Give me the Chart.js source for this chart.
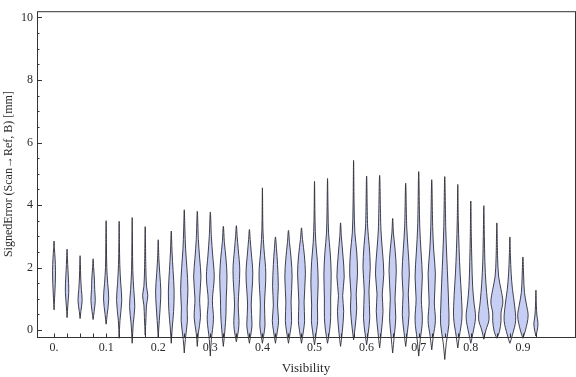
<!DOCTYPE html>
<html>
<head>
<meta charset="utf-8">
<script src="https://cdn.jsdelivr.net/npm/chart.js@4.4.1/dist/chart.umd.min.js"></script>
<style>
  html, body { margin: 0; padding: 0; background: #fff; }
  #wrap { width: 576px; height: 377px; }
</style>
</head>
<body>
<div id="wrap"><canvas id="violins" width="576" height="377"></canvas></div>
<script>
// Visibility bins (one violin each)
const positions = [0, 0.025, 0.05, 0.075, 0.1, 0.125, 0.15, 0.175, 0.2, 0.225,
  0.25, 0.275, 0.3, 0.325, 0.35, 0.375, 0.4, 0.425, 0.45, 0.475,
  0.5, 0.525, 0.55, 0.575, 0.6, 0.625, 0.65, 0.675, 0.7, 0.725,
  0.75, 0.775, 0.8, 0.825, 0.85, 0.875, 0.9, 0.925];

// Smallest / largest signed error in each bin [mm]
const lows = [0.65, 0.40, 0.37, 0.34, 0.19, -0.26, -0.42, -0.16, -0.23, -0.42,
  -0.73, -0.52, -0.83, -0.52, -0.37, -0.42, -0.42, -0.42, -0.42, -0.42,
  -0.47, -0.42, -0.52, -0.31, -0.47, -0.57, -0.73, -0.52, -0.83, -0.63,
  -0.94, -0.57, -0.42, -0.29, -0.26, -0.42, -0.26, -0.19];
const highs = [2.85, 2.59, 2.38, 2.28, 3.50, 3.48, 3.60, 3.31, 2.89, 3.17,
  3.85, 3.80, 3.78, 3.32, 3.34, 3.22, 4.55, 2.98, 3.19, 3.27,
  4.76, 4.85, 3.43, 5.43, 4.93, 4.95, 3.57, 4.70, 5.07, 4.81,
  4.91, 4.66, 4.13, 3.98, 3.43, 2.98, 2.34, 1.28];

// Density profile of each bin: [error, relative density]
const profiles = [
  [[1.0, 1.0], [1.5, 2.4], [1.9, 2.8], [2.3, 2.0], [2.6, 0.8]],
  [[0.8, 1.5], [1.2, 3.2], [1.5, 3.0], [1.9, 1.8], [2.3, 0.8]],
  [[0.6, 1.5], [0.95, 4.0], [1.3, 2.5], [1.7, 1.2], [2.1, 0.6]],
  [[0.6, 2], [0.95, 4.2], [1.3, 3], [1.6, 2.6], [2.0, 1]],
  [[0.5, 2], [1.0, 5.0], [1.5, 3], [2.0, 1.2], [2.8, 0.6]],
  [[0.3, 1.5], [0.95, 5.0], [1.5, 3], [2.1, 1.2], [2.8, 0.5]],
  [[0.2, 2], [0.75, 5.0], [1.3, 3], [1.9, 1.2], [2.8, 0.5]],
  [[0.4, 1.5], [0.8, 2.5], [1.1, 5.0], [1.4, 2.5], [2.0, 1.2]],
  [[0.3, 2], [0.8, 4], [1.25, 5], [1.8, 3], [2.3, 1.2]],
  [[0.1, 2], [0.6, 4.5], [1.25, 5.5], [1.9, 3.5], [2.5, 1.5]],
  [[-0.3, 2], [0.3, 6], [0.7, 5.5], [1.3, 7], [2.0, 5], [2.6, 2.5], [3.2, 1.2]],
  [[-0.1, 2], [0.4, 6], [1.0, 4.5], [1.7, 7], [2.3, 4.5], [2.9, 2]],
  [[-0.3, 2], [0.35, 6], [0.95, 4], [1.7, 7.5], [2.4, 4.5], [3.0, 2]],
  [[0, 3], [0.5, 5], [1.0, 5.5], [1.7, 7], [2.3, 5], [2.8, 2]],
  [[0, 4], [0.3, 5], [0.8, 3.5], [1.9, 6.5], [2.6, 3.5], [3.0, 1.5]],
  [[0, 4], [0.2, 5], [0.8, 3.5], [1.8, 6.5], [2.5, 3.5], [2.9, 1.5]],
  [[0, 4], [0.2, 5], [0.8, 4], [1.8, 6.5], [2.6, 3], [3.2, 1]],
  [[0, 4], [0.3, 6], [0.8, 4], [1.4, 5.5], [2.1, 4], [2.6, 2]],
  [[0, 4], [0.3, 6], [0.9, 5], [1.7, 7], [2.3, 5], [2.8, 2]],
  [[0, 4], [0.3, 6], [0.9, 5], [1.8, 7.5], [2.4, 5.5], [2.9, 2]],
  [[0, 4], [0.3, 6], [0.8, 5.5], [1.5, 7], [2.2, 5.5], [2.8, 2.5], [3.5, 1]],
  [[0, 4], [0.4, 6], [1.0, 6], [1.8, 7], [2.5, 5], [3.1, 2], [3.8, 1]],
  [[-0.1, 3], [0.6, 6], [1.1, 4], [1.7, 7], [2.4, 4.5], [3.0, 1.5]],
  [[0.1, 3], [0.7, 6], [1.15, 5], [1.8, 7.5], [2.5, 6], [3.1, 2.5], [4.0, 1]],
  [[-0.1, 3], [0.4, 6], [1.25, 4.5], [2.0, 7], [2.7, 5], [3.3, 2]],
  [[-0.1, 3], [0.6, 6.5], [1.15, 5], [1.8, 8], [2.5, 5.5], [3.2, 2.5]],
  [[-0.2, 3], [0.4, 6], [1.0, 4.5], [1.9, 7], [2.6, 4.5], [3.1, 1.5]],
  [[-0.1, 3], [0.5, 6.5], [1.15, 5], [1.8, 7], [2.6, 4.5], [3.3, 2]],
  [[-0.3, 3], [0.3, 7], [1.0, 5], [1.7, 7], [2.5, 4.5], [3.3, 2]],
  [[-0.2, 3], [0.3, 7], [0.9, 5], [1.8, 7], [2.5, 4], [3.2, 2]],
  [[-0.4, 3], [0.2, 8], [0.8, 7.5], [1.5, 6], [2.3, 4], [3.2, 2]],
  [[-0.2, 3], [0.4, 8], [1.1, 7], [1.8, 4.5], [2.6, 2.5], [3.5, 1]],
  [[-0.1, 4], [0.4, 9], [0.9, 6], [1.4, 3.5], [2.2, 2], [3.0, 1]],
  [[0, 4], [0.35, 10], [0.9, 7], [1.5, 4], [2.2, 2], [3.0, 1]],
  [[-0.05, 5], [0.3, 8], [0.55, 8], [0.9, 11.5], [1.3, 8], [1.7, 3.5], [2.3, 1.5]],
  [[-0.15, 5], [0.3, 11], [0.8, 9], [1.3, 5], [1.8, 2.5], [2.4, 1]],
  [[0, 5], [0.45, 10], [0.8, 7], [1.2, 3], [1.7, 1.5]],
  [[-0.05, 2], [0.2, 4], [0.45, 2], [0.8, 0.8]],
];

const xTickValues = [0, 0.1, 0.2, 0.3, 0.4, 0.5, 0.6, 0.7, 0.8, 0.9];
const yTickValues = [0, 2, 4, 6, 8, 10];

// density unit -> half width in Visibility units
const DENSITY_SCALE = 1 / 1000;
const FILL = 'rgb(199,206,243)';
const EDGE = 'rgba(45,45,55,0.9)';
const TEXT = '#2a2a2a';
const SERIF = "'Liberation Serif', 'DejaVu Serif', serif";

// Outline of one violin: up the right side, back down the left side
function violinOutline(i) {
  const x0 = positions[i];
  const knots = profiles[i];
  const pts = [{ x: x0, y: lows[i] }];
  knots.forEach(([y, d]) => pts.push({ x: x0 + d * DENSITY_SCALE, y }));
  pts.push({ x: x0, y: highs[i] });
  knots.slice().reverse().forEach(([y, d]) => pts.push({ x: x0 - d * DENSITY_SCALE, y }));
  pts.push({ x: x0, y: lows[i] });
  return pts;
}

const datasets = positions.map((_, i) => ({
  data: violinOutline(i),
  backgroundColor: FILL,
  borderColor: EDGE,
  borderWidth: 1,
  fill: 'shape',
  tension: 0.35,
  pointRadius: 0,
  clip: false,
}));

// Mathematica-like frame with inward ticks
const framePlugin = {
  id: 'frame',
  afterDatasetsDraw(chart) {
    const { ctx, chartArea: a, scales: { x, y } } = chart;
    ctx.save();
    ctx.strokeStyle = '#333';
    ctx.lineWidth = 1;
    ctx.strokeRect(a.left + 0.5, a.top + 0.5, a.right - a.left, a.bottom - a.top);
    ctx.beginPath();
    for (let v = 0; v <= 10; v += 0.5) {
      const py = Math.round(y.getPixelForValue(v)) + 0.5;
      const len = v % 2 === 0 ? 5 : 2.5;
      ctx.moveTo(a.left, py);
      ctx.lineTo(a.left + len, py);
    }
    positions.forEach(v => {
      const px = Math.round(x.getPixelForValue(v)) + 0.5;
      ctx.moveTo(px, a.bottom);
      ctx.lineTo(px, a.bottom - 3.5);
    });
    ctx.stroke();
    ctx.restore();
  },
};

new Chart(document.getElementById('violins').getContext('2d'), {
  type: 'line',
  data: { datasets },
  plugins: [framePlugin],
  options: {
    responsive: false,
    animation: false,
    layout: { padding: { top: 4, right: 1, left: 0, bottom: 0 } },
    elements: { line: { capBezierPoints: false } },
    plugins: { legend: { display: false }, tooltip: { enabled: false } },
    scales: {
      x: {
        type: 'linear',
        min: -0.0327,
        max: 1.0,
        afterFit: s => { s.height = 40; },
        afterBuildTicks: s => { s.ticks = xTickValues.map(value => ({ value })); },
        grid: { display: false, drawTicks: false },
        border: { display: false },
        ticks: {
          padding: 4,
          color: TEXT,
          font: { family: SERIF, size: 12 },
          maxRotation: 0,
          autoSkip: false,
          callback: v => (v === 0 ? '0.' : v.toFixed(1)),
        },
        title: {
          display: true,
          text: 'Visibility',
          color: TEXT,
          font: { family: SERIF, size: 13 },
          padding: { top: 0, bottom: 1 },
        },
      },
      y: {
        min: -0.22,
        max: 10.2,
        afterFit: s => { s.width = 37; },
        afterBuildTicks: s => { s.ticks = yTickValues.map(value => ({ value })); },
        grid: { display: false, drawTicks: false },
        border: { display: false },
        ticks: {
          padding: 4,
          color: TEXT,
          font: { family: SERIF, size: 12 },
        },
        title: {
          display: true,
          text: 'SignedError (Scan\u2192Ref, B) [mm]',
          color: TEXT,
          font: { family: SERIF, size: 12 },
          padding: { top: 2, bottom: 0 },
        },
      },
    },
  },
});
</script>
</body>
</html>
